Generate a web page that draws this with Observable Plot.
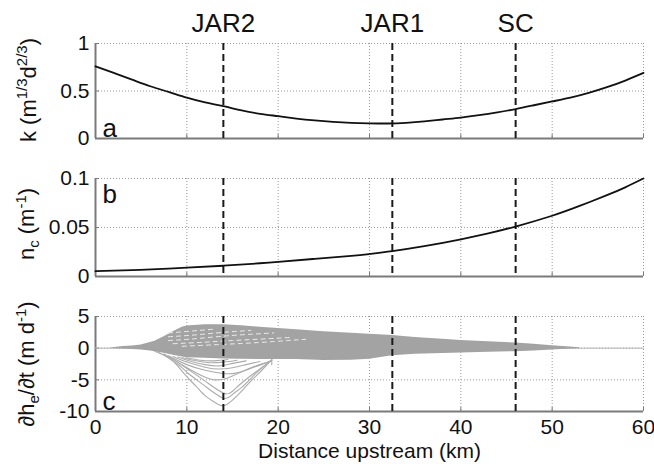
<!DOCTYPE html>
<html>
<head>
<meta charset="utf-8">
<script src="https://cdn.jsdelivr.net/npm/d3@7"></script>
<script src="https://cdn.jsdelivr.net/npm/@observablehq/plot@0.6"></script>
<style>
  html, body { margin: 0; padding: 0; background: #fff; }
  #fig { position: relative; width: 654px; height: 464px; overflow: hidden; font-family: "Liberation Sans", Arial, sans-serif; }
  #fig svg { position: absolute; left: 0; display: block; }
  .ylab { position: absolute; white-space: nowrap; transform: translate(-50%, -50%) rotate(-90deg); font-size: 22px; color: #111; line-height: 1; }
  .ylab sup, .ylab sub { font-size: 15px; }
</style>
</head>
<body>
<div id="fig"></div>
<script>
// ---- data ----
const xTicks = [0, 10, 20, 30, 40, 50, 60];
const siteNames = ["JAR2", "JAR1", "SC"];
const sitePos = [14, 32.5, 46];

// panel a: k
const kX = [0,2,4,6,8,10,12,14,16,18,20,22,24,26,28,30,32,34,36,38,40,42,44,46,48,50,52,54,56,58,60];
const kY = [0.76,0.69,0.62,0.55,0.49,0.43,0.38,0.34,0.295,0.26,0.235,0.21,0.19,0.175,0.165,0.16,0.158,0.165,0.18,0.2,0.22,0.245,0.275,0.31,0.35,0.39,0.43,0.48,0.54,0.61,0.69];
const kTicks = [0, 0.5, 1];

// panel b: n_c
const nX = [0,4,8,10,14,18,20,24,28,30,32.5,36,40,43,46,50,53,56,58,60];
const nY = [0.0055,0.0065,0.008,0.009,0.011,0.0135,0.015,0.018,0.021,0.023,0.026,0.031,0.038,0.044,0.051,0.062,0.072,0.083,0.091,0.1];
const nTicks = [0, 0.05, 0.1];

// panel c: dh_e/dt envelope of the dense band
const bandX =     [0, 1.5, 3,    4,    5,    6,    6.5,  7.5,  8.5,  9.5,  10,   12,   14,   16,    18,   20,   22,   25,    28,   30,    32.5, 35,    38,    40,    43,    46,    48,    50,   52,    53];
const bandUpper = [0, 0,   0.25, 0.35, 0.5,  0.9,  1.1,  1.8,  2.6,  3.3,  3.5,  3.7,  3.7,  3.55,  3.3,  3.1,  2.9,  2.6,   2.35, 2.2,   2.0,  1.7,   1.4,   1.2,   1.0,   0.8,   0.6,   0.4,  0.2,   0.05];
const bandLower = [0, 0,  -0.15,-0.2, -0.3, -0.45,-0.55,-0.8, -1.1, -1.4, -1.5, -1.6, -1.7, -1.75, -1.8, -1.8, -1.8, -1.95, -1.9, -1.75, -1.2, -0.95, -0.85, -0.75, -0.65, -0.55, -0.45, -0.3, -0.15, -0.05];
const zeroLineX = [0, 60];
const zeroLineY = [0, 0];

// individual profiles dipping below the band
const dipX = [
  [6.5,8,9,10,11,12,13,14,15,16,17,18,19,19.3],
  [7,9,10,12,14,15,16,17,18,19.2],
  [7.5,9,10,12,14,15,16,17.5,19],
  [7.5,9,10.5,12,13,14,15,16.5,18,19.3],
  [8,10,12,14,15.5,17,18.5,19.3],
  [8.5,10,12,13.5,15,16.5,18],
  [9,10.5,12,13.5,15,16.5],
  [9.5,11,12.5,14,15.5],
  [10,11.5,13,14.5],
  [19.3,19.3]
];
const dipY = [
  [-0.5,-1.5,-2.8,-4.5,-6,-7.5,-8.5,-9.1,-8.2,-6.8,-5.2,-3.8,-2.3,-1.8],
  [-0.7,-2.5,-3.8,-6,-7.9,-7.3,-6.2,-4.8,-3.4,-2],
  [-0.9,-2.2,-3.2,-5.2,-7.1,-6.8,-5.5,-3.8,-2.2],
  [-1,-2.2,-3.5,-4.6,-5,-4.9,-4.4,-3.4,-2.6,-2],
  [-1.2,-2.6,-3.5,-4,-3.9,-3.2,-2.4,-1.9],
  [-1.3,-2.2,-3,-3.3,-3.1,-2.6,-2.1],
  [-1.4,-2.1,-2.6,-2.8,-2.4,-2],
  [-1.5,-2,-2.3,-2.2,-1.9],
  [-1.5,-1.9,-2.0,-1.8],
  [-2.6,-1.8]
];
// gaps between profiles inside the band (white streaks)
const gapX = [
  [8,10.5,13],
  [8,11,14,17],
  [8,11,14,17,19.5],
  [8.5,12,15,19,21.5],
  [9.5,14,18,21,23]
];
const gapY = [
  [2.4,2.7,3.0],
  [1.8,2.1,2.5,2.8],
  [1.2,1.5,1.9,2.2,2.4],
  [0.7,0.95,1.2,1.5,1.7],
  [0.3,0.6,0.9,1.2,1.4]
];
const cTicks = [-10, -5, 0, 5];

// ---- helpers ----
const FONT = "'Liberation Sans', Arial, sans-serif";
const W = 654, ML = 95, MR = 11;
const gridColor = "#9a9a9a";
const axisColor = "#7a7a7a";

function toRows(xs, ys) { return xs.map((x, i) => ({x, y: ys[i]})); }
function toSeries(xss, yss) {
  const rows = [];
  xss.forEach((xs, s) => xs.forEach((x, i) => rows.push({s, x, y: yss[s][i]})));
  return rows;
}

function frameMarks(yDomain, yTicks, showXLabels) {
  return [
    Plot.gridX(xTicks, {stroke: gridColor, strokeOpacity: 1, strokeDasharray: "1,2"}),
    Plot.gridY(yTicks, {stroke: gridColor, strokeOpacity: 1, strokeDasharray: "1,2"}),
    Plot.axisY(yTicks, {tickSize: -4, tickPadding: 10, stroke: axisColor, fontSize: 21, fill: "#111", tickFormat: d => String(d)}),
    Plot.axisX(xTicks, {tickSize: -4, tickPadding: showXLabels ? 12 : 0, stroke: axisColor, fontSize: 21, fill: "#111",
      tickFormat: showXLabels ? (d => String(d)) : () => ""}),
    Plot.ruleY([yDomain[0]], {stroke: axisColor, strokeWidth: 2}),
    Plot.ruleX([0], {stroke: axisColor, strokeWidth: 2})
  ];
}

function siteRules() {
  return Plot.ruleX(sitePos, {stroke: "#1a1a1a", strokeWidth: 2, strokeDasharray: "7,4"});
}

const fig = document.getElementById("fig");

// ---- panel a ----
const plotA = Plot.plot({
  width: W, height: 150,
  marginLeft: ML, marginRight: MR, marginTop: 43, marginBottom: 12,
  style: {fontFamily: FONT, fontSize: "20px", background: "transparent", overflow: "visible"},
  x: {domain: [0, 60], label: null},
  y: {domain: [0, 1], label: null},
  marks: [
    ...frameMarks([0, 1], kTicks, false),
    siteRules(),
    Plot.line(toRows(kX, kY), {x: "x", y: "y", stroke: "#111", strokeWidth: 1.8, curve: "natural"}),
    Plot.text(siteNames, {x: sitePos, y: [1, 1, 1], dy: -20, textAnchor: "middle", lineAnchor: "middle", fontSize: 26, fill: "#111", fontFamily: FONT}),
    Plot.text(["a"], {frameAnchor: "bottom-left", dx: 7, dy: -2, textAnchor: "start", lineAnchor: "bottom", fontSize: 26, fill: "#111", fontFamily: FONT})
  ]
});
plotA.style.top = "0px";
fig.appendChild(plotA);

// ---- panel b ----
const plotB = Plot.plot({
  width: W, height: 140,
  marginLeft: ML, marginRight: MR, marginTop: 28, marginBottom: 14,
  style: {fontFamily: FONT, fontSize: "20px", background: "transparent", overflow: "visible"},
  x: {domain: [0, 60], label: null},
  y: {domain: [0, 0.1], label: null},
  marks: [
    ...frameMarks([0, 0.1], nTicks, false),
    siteRules(),
    Plot.line(toRows(nX, nY), {x: "x", y: "y", stroke: "#111", strokeWidth: 1.8, curve: "natural"}),
    Plot.text(["b"], {frameAnchor: "top-left", dx: 7, dy: 6, textAnchor: "start", lineAnchor: "top", fontSize: 26, fill: "#111", fontFamily: FONT})
  ]
});
plotB.style.top = "150px";
fig.appendChild(plotB);

// ---- panel c ----
const bandRows = bandX.map((x, i) => ({x, y1: bandLower[i], y2: bandUpper[i]}));
const plotC = Plot.plot({
  width: W, height: 174,
  marginLeft: ML, marginRight: MR, marginTop: 26, marginBottom: 53,
  style: {fontFamily: FONT, fontSize: "20px", background: "transparent", overflow: "visible"},
  x: {domain: [0, 60], label: null},
  y: {domain: [-10, 5], label: null},
  marks: [
    ...frameMarks([-10, 5], cTicks, true),
    Plot.line(toRows(zeroLineX, zeroLineY), {x: "x", y: "y", stroke: "#b5b5b5", strokeWidth: 1}),
    Plot.areaY(bandRows, {x: "x", y1: "y1", y2: "y2", fill: "#a3a3a3", curve: "linear"}),
    Plot.line(toSeries(dipX, dipY), {x: "x", y: "y", z: "s", stroke: "#acacac", strokeWidth: 1.1, curve: "natural"}),
    Plot.line(toSeries(gapX, gapY), {x: "x", y: "y", z: "s", stroke: "#eeeeee", strokeWidth: 1, strokeDasharray: "4,4", curve: "natural"}),
    siteRules(),
    Plot.text(["c"], {frameAnchor: "bottom-left", dx: 7, dy: -2, textAnchor: "start", lineAnchor: "bottom", fontSize: 26, fill: "#111", fontFamily: FONT}),
    Plot.text(["Distance upstream (km)"], {frameAnchor: "bottom", dy: 40, textAnchor: "middle", lineAnchor: "middle", fontSize: 21, fill: "#111", fontFamily: FONT})
  ]
});
plotC.style.top = "290px";
fig.appendChild(plotC);

// ---- y labels (rotated) ----
const yLabels = [
  {html: "k (m<sup>1/3</sup>d<sup>2/3</sup>)", cx: 27, cy: 90},
  {html: "n<sub>c</sub> (m<sup>-1</sup>)", cx: 27, cy: 224},
  {html: "∂h<sub>e</sub>/∂t (m d<sup>-1</sup>)", cx: 27, cy: 364}
];
yLabels.forEach(l => {
  const d = document.createElement("div");
  d.className = "ylab";
  d.innerHTML = l.html;
  d.style.left = l.cx + "px";
  d.style.top = l.cy + "px";
  fig.appendChild(d);
});
</script>
</body>
</html>
